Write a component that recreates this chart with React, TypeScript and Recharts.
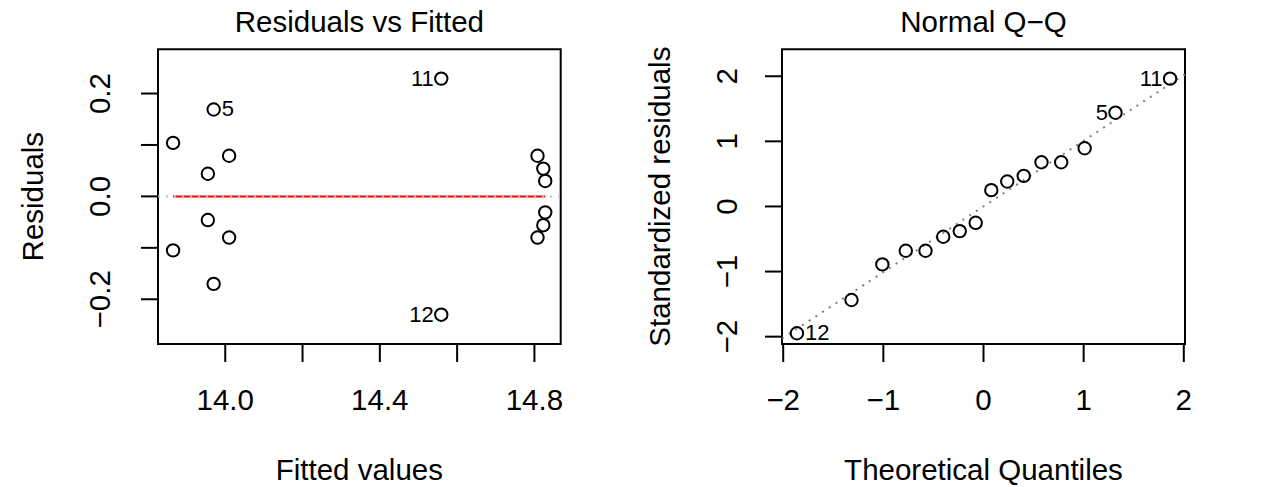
import React from "react";
import { ScatterChart, Scatter, XAxis, YAxis, ReferenceArea } from "recharts";

const FONT = "'Liberation Sans', Arial, Helvetica, sans-serif";
const MAIN_SIZE = 29.5;

// Residuals vs Fitted
const fittedValues = [
  13.865, 13.865, 13.955, 13.955, 13.97, 13.97, 14.01, 14.01,
  14.559, 14.559, 14.808, 14.808, 14.823, 14.823, 14.828, 14.828,
];
const residuals = [
  0.104, -0.105, 0.044, -0.046, 0.169, -0.17, 0.079, -0.08,
  0.229, -0.23, 0.079, -0.08, 0.054, -0.056, 0.03, -0.031,
];
const residualIds = ["", "", "", "", "5", "", "", "", "11", "12", "", "", "", "", "", ""];
const smoothX = [13.865, 14.828];
const smoothY = [0, 0];
const zeroLineX = [13.826, 14.868];
const zeroLineY = [0, 0];

const fittedTicks = [14.0, 14.2, 14.4, 14.6, 14.8];
const fittedTickLabels = ["14.0", "", "14.4", "", "14.8"];
const residualTicks = [-0.2, -0.1, 0, 0.1, 0.2];
const residualTickLabels = ["\u22120.2", "", "0.0", "", "0.2"];

// Normal Q-Q
const theoreticalQuantiles = [
  -1.863, -1.318, -1.01, -0.776, -0.579, -0.402, -0.237, -0.078,
  0.078, 0.237, 0.402, 0.579, 0.776, 1.01, 1.318, 1.863,
];
const stdResiduals = [
  -1.948, -1.437, -0.89, -0.681, -0.681, -0.466, -0.379, -0.251,
  0.25, 0.383, 0.469, 0.679, 0.679, 0.894, 1.44, 1.963,
];
const qqIds = ["12", "", "", "", "", "", "", "", "", "", "", "", "", "", "5", "11"];
const qqLineX = [-2.012, 2.012];
const qqLineY = [-2.03, 2.03];

const quantileTicks = [-2, -1, 0, 1, 2];
const quantileTickLabels = ["\u22122", "\u22121", "0", "1", "2"];
const stdTicks = [-2, -1, 0, 1, 2];
const stdTickLabels = ["\u22122", "\u22121", "0", "1", "2"];

const toPoints = (xs: number[], ys: number[], ids?: string[]) =>
  xs.map((x, i) => ({ x, y: ys[i], id: ids ? ids[i] : "" }));

const noShape = () => <g />;

function marker(mid: number) {
  return (p: any) => {
    const { cx, cy, payload } = p;
    const onLeft = payload.x > mid;
    return (
      <g>
        <circle cx={cx} cy={cy} r={6.2} fill="none" stroke="#000" strokeWidth={2} />
        {payload.id ? (
          <text
            x={onLeft ? cx - 7.5 : cx + 8}
            y={cy + 7}
            textAnchor={onLeft ? "end" : "start"}
            fontSize={22}
            fontFamily={FONT}
            fill="#000"
          >
            {payload.id}
          </text>
        ) : null}
      </g>
    );
  };
}

const xTick = (ticks: number[], labels: string[], baseline: number) => (p: any) => {
  let i = ticks.indexOf(p.payload.value);
  if (i < 0) i = p.index;
  return (
    <text x={p.x} y={baseline} textAnchor="middle" fontSize={MAIN_SIZE} fontFamily={FONT} fill="#000">
      {labels[i]}
    </text>
  );
};

const yTick = (ticks: number[], labels: string[], bx: number) => (p: any) => {
  let i = ticks.indexOf(p.payload.value);
  if (i < 0) i = p.index;
  return (
    <text
      x={bx}
      y={p.y}
      transform={`rotate(-90 ${bx} ${p.y})`}
      textAnchor="middle"
      fontSize={MAIN_SIZE}
      fontFamily={FONT}
      fill="#000"
    >
      {labels[i]}
    </text>
  );
};

const titles = (main: string, xLab: string, yLab: string, yLabOff: number) => (props: any) => {
  const { x, y, width, height } = props.viewBox;
  const cx = x + width / 2;
  const cy = y + height / 2;
  const yx = x - yLabOff;
  return (
    <g fontFamily={FONT} fill="#000" fontSize={MAIN_SIZE}>
      <text x={cx} y={y - 17} textAnchor="middle">{main}</text>
      <text x={cx} y={y + height + 136} textAnchor="middle">{xLab}</text>
      <text x={yx} y={cy} textAnchor="middle" transform={`rotate(-90 ${yx} ${cy})`}>{yLab}</text>
    </g>
  );
};

// axis band sizes inside the margins
const Y_W = 60;
const X_H = 40;

function ResidualsPanel() {
  const xDomain: [number, number] = [13.826, 14.868];
  const yDomain: [number, number] = [-0.287, 0.286];
  return (
    <ScatterChart width={634} height={487} margin={{ top: 49.3, right: 73.3, bottom: 143 - X_H, left: 158 - Y_W }}>
      <XAxis
        type="number"
        dataKey="x"
        domain={xDomain}
        allowDataOverflow
        ticks={fittedTicks}
        interval={0}
        height={X_H}
        axisLine={false}
        stroke="#000"
        tickSize={18}
        tickLine={{ stroke: "#000", strokeWidth: 2 }}
        tick={xTick(fittedTicks, fittedTickLabels, 410)}
      />
      <YAxis
        type="number"
        dataKey="y"
        domain={yDomain}
        allowDataOverflow
        ticks={residualTicks}
        interval={0}
        width={Y_W}
        axisLine={false}
        stroke="#000"
        tickSize={17}
        tickLine={{ stroke: "#000", strokeWidth: 2 }}
        tick={yTick(residualTicks, residualTickLabels, 110)}
      />
      <ReferenceArea
        x1={xDomain[0]}
        x2={xDomain[1]}
        y1={yDomain[0]}
        y2={yDomain[1]}
        fill="none"
        fillOpacity={0}
        stroke="#000"
        strokeWidth={2}
        ifOverflow="visible"
        label={titles("Residuals vs Fitted", "Fitted values", "Residuals", 114.7)}
      />
      <Scatter
        data={toPoints(fittedValues, residuals, residualIds)}
        shape={marker(14.35)}
        isAnimationActive={false}
      />
      <Scatter
        data={toPoints(smoothX, smoothY)}
        line={{ stroke: "#ff0000", strokeWidth: 2 }}
        shape={noShape}
        isAnimationActive={false}
      />
      <Scatter
        data={toPoints(zeroLineX, zeroLineY)}
        line={{ stroke: "#bebebe", strokeWidth: 2, strokeDasharray: "2 6" }}
        shape={noShape}
        isAnimationActive={false}
      />
    </ScatterChart>
  );
}

function QQPanel() {
  const xDomain: [number, number] = [-2.012, 2.012];
  const yDomain: [number, number] = [-2.113, 2.414];
  return (
    <ScatterChart width={634} height={487} margin={{ top: 49.3, right: 83, bottom: 143 - X_H, left: 148 - Y_W }}>
      <XAxis
        type="number"
        dataKey="x"
        domain={xDomain}
        allowDataOverflow
        ticks={quantileTicks}
        interval={0}
        height={X_H}
        axisLine={false}
        stroke="#000"
        tickSize={18}
        tickLine={{ stroke: "#000", strokeWidth: 2 }}
        tick={xTick(quantileTicks, quantileTickLabels, 410)}
      />
      <YAxis
        type="number"
        dataKey="y"
        domain={yDomain}
        allowDataOverflow
        ticks={stdTicks}
        interval={0}
        width={Y_W}
        axisLine={false}
        stroke="#000"
        tickSize={17}
        tickLine={{ stroke: "#000", strokeWidth: 2 }}
        tick={yTick(stdTicks, stdTickLabels, 736.7 - 634)}
      />
      <ReferenceArea
        x1={xDomain[0]}
        x2={xDomain[1]}
        y1={yDomain[0]}
        y2={yDomain[1]}
        fill="none"
        fillOpacity={0}
        stroke="#000"
        strokeWidth={2}
        ifOverflow="visible"
        label={titles("Normal Q\u2212Q", "Theoretical Quantiles", "Standardized residuals", 112)}
      />
      <Scatter
        data={toPoints(qqLineX, qqLineY)}
        line={{ stroke: "#7f7f7f", strokeWidth: 2, strokeDasharray: "2 6" }}
        shape={noShape}
        isAnimationActive={false}
      />
      <Scatter
        data={toPoints(theoreticalQuantiles, stdResiduals, qqIds)}
        shape={marker(0)}
        isAnimationActive={false}
      />
    </ScatterChart>
  );
}

export default function App() {
  return (
    <div style={{ position: "absolute", left: 0, top: 0, width: 1268, height: 487, background: "#fff" }}>
      <div style={{ position: "absolute", left: 0, top: 0 }}>
        <ResidualsPanel />
      </div>
      <div style={{ position: "absolute", left: 634, top: 0 }}>
        <QQPanel />
      </div>
    </div>
  );
}
